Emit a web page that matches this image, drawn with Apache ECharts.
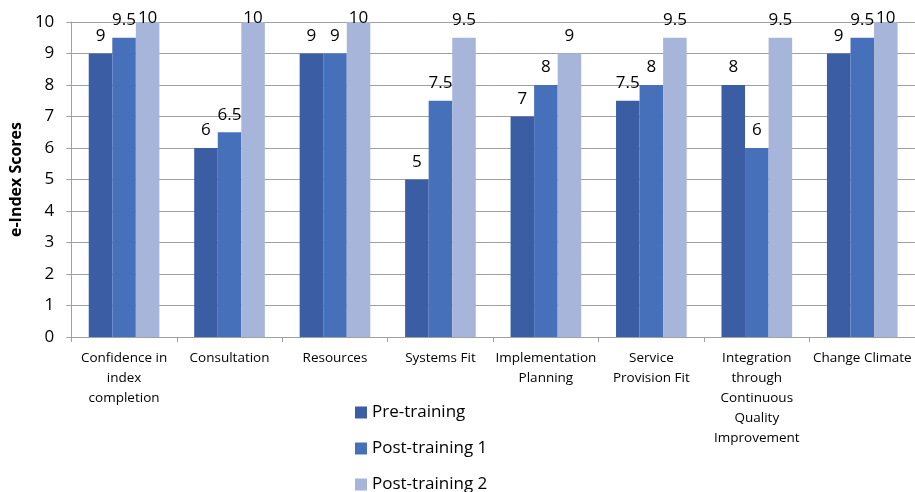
<!DOCTYPE html>
<html><head><meta charset="utf-8">
<script src="https://cdn.jsdelivr.net/npm/echarts@6/dist/echarts.min.js"></script>
<style>html,body{margin:0;padding:0;background:#fff}#c{width:915px;height:492px}</style>
</head><body><div id="c"></div>
<script>
const categories = ["Confidence in\nindex\ncompletion","Consultation","Resources","Systems Fit","Implementation\nPlanning","Service\nProvision Fit","Integration\nthrough\nContinuous\nQuality\nImprovement","Change Climate"];
const preTraining = [9, 6, 9, 5, 7, 7.5, 8, 9];
const postTraining1 = [9.5, 6.5, 9, 7.5, 8, 8, 6, 9.5];
const postTraining2 = [10, 10, 10, 9.5, 9, 9.5, 9.5, 10];
const seriesNames = ["Pre-training", "Post-training 1", "Post-training 2"];
const colors = ["#3A5DA3", "#4670BA", "#A7B5DB"];
const yMax = 10;
const FONT = "Open Sans";
const chart = echarts.init(document.getElementById('c'));
const mk = (name, data, color) => ({
  name, type: 'bar', barGap: '0%', barCategoryGap: '33%',
  data: data.map(v => v >= yMax ? { value: v, label: { distance: -5 } } : v),
  itemStyle: { color },
  label: { show: true, position: 'top', distance: 9, fontSize: 17, color: '#000', fontFamily: FONT }
});
chart.setOption({
  animation: false,
  textStyle: { fontFamily: FONT },
  grid: { left: 70, right: 0, top: 22, bottom: 155 },
  legend: {
    orient: 'vertical', left: 350, top: 399, width: 300, height: 200, itemWidth: 12, itemHeight: 12, itemGap: 19,
    icon: 'rect', textStyle: { fontSize: 17, color: '#000', fontFamily: FONT },
    data: seriesNames
  },
  xAxis: {
    type: 'category', data: categories,
    axisLine: { lineStyle: { color: '#A0A0A0' } },
    axisTick: { show: true, length: 5, lineStyle: { color: '#A0A0A0' } },
    axisLabel: { fontSize: 13.5, color: '#000', lineHeight: 20, margin: 11, interval: 0, fontFamily: FONT }
  },
  yAxis: {
    type: 'value', min: 0, max: yMax, interval: 1,
    name: 'e-Index Scores', nameLocation: 'middle', nameGap: 46,
    nameTextStyle: { fontSize: 16, fontWeight: 'bold', color: '#000', fontFamily: FONT },
    axisLine: { show: true, lineStyle: { color: '#A0A0A0' } },
    axisTick: { show: true, length: 5, lineStyle: { color: '#A0A0A0' } },
    axisLabel: { fontSize: 17, color: '#000', margin: 17, fontFamily: FONT },
    splitLine: { lineStyle: { color: '#A0A0A0' } }
  },
  series: [
    mk(seriesNames[0], preTraining, colors[0]),
    mk(seriesNames[1], postTraining1, colors[1]),
    mk(seriesNames[2], postTraining2, colors[2])
  ]
});
</script></body></html>
